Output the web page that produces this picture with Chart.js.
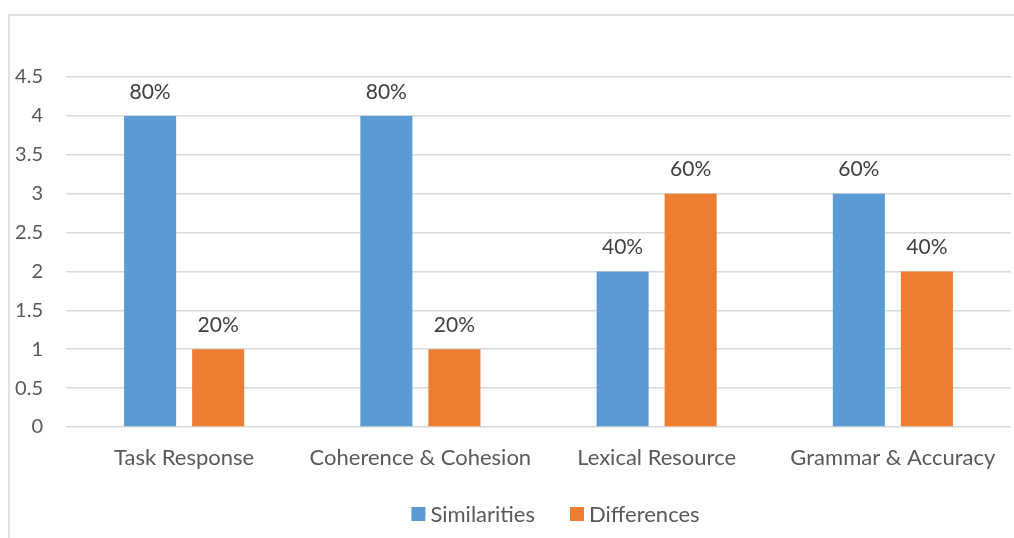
<!DOCTYPE html>
<html>
<head>
<meta charset="utf-8">
<script src="https://cdn.jsdelivr.net/npm/chart.js@4"></script>
<style>
html,body{margin:0;padding:0;background:#fff;}
#wrap{width:1014px;height:538px;position:relative;}
</style>
</head>
<body>
<div id="wrap"><canvas id="c" width="1014" height="538"></canvas></div>
<script>
const categories = ["Task Response", "Coherence & Cohesion", "Lexical Resource", "Grammar & Accuracy"];
const similarities = [4, 4, 2, 3];
const differences = [1, 1, 3, 2];
const similaritiesLabels = ["80%", "80%", "40%", "60%"];
const differencesLabels = ["20%", "20%", "60%", "40%"];
const yTicks = [0, 0.5, 1, 1.5, 2, 2.5, 3, 3.5, 4, 4.5];

const FONT = "Lato, 'Open Sans', sans-serif";
const TEXT = "#595959";

const frame = {
  id: 'frame',
  beforeDraw(chart) {
    const ctx = chart.ctx;
    ctx.save();
    ctx.fillStyle = '#fff';
    ctx.fillRect(0, 0, chart.width, chart.height);
    ctx.strokeStyle = '#d9d9d9';
    ctx.lineWidth = 1.5;
    ctx.beginPath();
    ctx.moveTo(9, chart.height);
    ctx.lineTo(9, 15);
    ctx.lineTo(chart.width, 15);
    ctx.stroke();
    ctx.restore();
  }
};

const dataLabels = {
  id: 'dataLabels',
  afterDatasetsDraw(chart) {
    const ctx = chart.ctx;
    ctx.save();
    ctx.font = "21px " + FONT;
    ctx.fillStyle = "#404040";
    ctx.textAlign = 'center';
    ctx.textBaseline = 'middle';
    chart.data.datasets.forEach((ds, i) => {
      const meta = chart.getDatasetMeta(i);
      meta.data.forEach((bar, j) => {
        ctx.fillText(ds.pctLabels[j], bar.x, bar.y - 24);
      });
    });
    ctx.restore();
  }
};

const customLegend = {
  id: 'customLegend',
  afterDraw(chart) {
    const ctx = chart.ctx;
    ctx.save();
    ctx.font = "22px " + FONT;
    ctx.textBaseline = 'middle';
    ctx.textAlign = 'left';
    const box = 14, gap = 5, itemGap = 35, cy = 514;
    const items = chart.data.datasets.map(ds => ({ text: ds.label, color: ds.backgroundColor, w: ctx.measureText(ds.label).width }));
    const total = items.reduce((s, it) => s + box + gap + it.w, 0) + itemGap * (items.length - 1);
    const area = chart.chartArea;
    let x = (area.left + area.right) / 2 + 17 - total / 2;
    items.forEach(it => {
      ctx.fillStyle = it.color;
      ctx.fillRect(x, cy - box / 2, box, box);
      ctx.fillStyle = TEXT;
      ctx.fillText(it.text, x + box + gap, cy + 1);
      x += box + gap + it.w + itemGap;
    });
    ctx.restore();
  }
};

new Chart(document.getElementById('c'), {
  type: 'bar',
  data: {
    labels: categories,
    datasets: [
      { label: 'Similarities', data: similarities, pctLabels: similaritiesLabels, backgroundColor: '#5B9BD5', categoryPercentage: 0.576, barPercentage: 0.765 },
      { label: 'Differences', data: differences, pctLabels: differencesLabels, backgroundColor: '#ED7D31', categoryPercentage: 0.576, barPercentage: 0.765 }
    ]
  },
  options: {
    responsive: false,
    animation: false,
    devicePixelRatio: 1,
    layout: { padding: { top: 77, right: 3, left: 0, bottom: 51 } },
    plugins: {
      legend: { display: false },
      tooltip: { enabled: false }
    },
    scales: {
      x: {
        grid: { display: false, drawTicks: false },
        border: { display: false },
        ticks: { color: TEXT, font: { family: FONT, size: 22 }, padding: 18, maxRotation: 0 },
        afterFit(s) { s.height = 60; }
      },
      y: {
        min: 0, max: 4.5,
        grid: { color: '#d9d9d9', lineWidth: 1.5, drawTicks: false },
        border: { display: false },
        afterBuildTicks(s) { s.ticks = yTicks.map(v => ({ value: v })); },
        ticks: { color: TEXT, font: { family: FONT, size: 20 }, padding: 23, callback: v => String(v) },
        afterFit(s) { s.width = 66; }
      }
    }
  },
  plugins: [frame, dataLabels, customLegend]
});
</script>
</body>
</html>
